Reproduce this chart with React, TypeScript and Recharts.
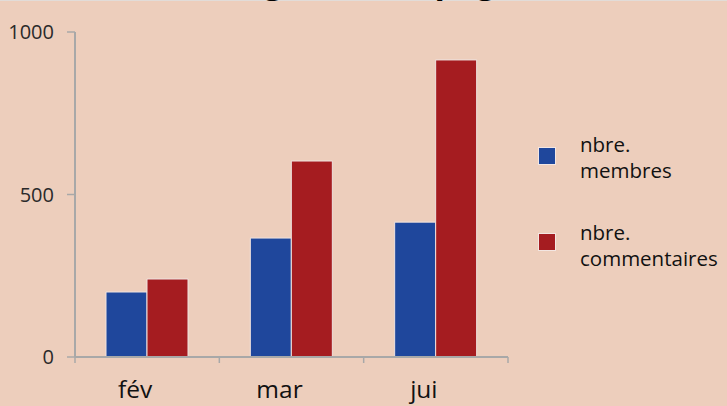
import React from 'react';
import { BarChart, Bar, XAxis, YAxis } from 'recharts';

// categories and values
const categories = ['fév', 'mar', 'jui'];
const membres = [200, 366, 415];
const commentaires = [240, 603, 914];
const yTicks = [0, 500, 1000];
const seriesLabels = ['nbre. membres', 'nbre. commentaires'];
const titleText = 'Progrès de la page';

const BLUE = '#1F479C';
const RED = '#A51C20';
const BG = '#EDCEBC';
const AXIS = '#A8A8A8';

const W = 727;
const H = 406;
const MARGIN = { top: 32, right: 219, bottom: 0, left: 0 };
const Y_WIDTH = 75;
const X_HEIGHT = 49;
const plotWidth = W - MARGIN.left - MARGIN.right - Y_WIDTH;

const data = categories.map((cat, i) => ({
  cat,
  membres: membres[i],
  commentaires: commentaires[i],
}));

const series = [
  { key: 'membres', label: seriesLabels[0], color: BLUE },
  { key: 'commentaires', label: seriesLabels[1], color: RED },
];

// Excel-like x axis: tick marks at category boundaries, labels under the bars
const XTick = (props: any) => {
  const { x, y, payload, index } = props;
  const band = plotWidth / categories.length;
  const left = x - band / 2;
  return (
    <g>
      <line x1={left} y1={y} x2={left} y2={y + 6} stroke={AXIS} strokeWidth={1.5} />
      {index === categories.length - 1 && (
        <line x1={left + band} y1={y} x2={left + band} y2={y + 6} stroke={AXIS} strokeWidth={1.5} />
      )}
      <text x={x - 12} y={y + 41} textAnchor="middle" fill="#111" fontSize={24.5} fontFamily="Open Sans">
        {payload.value}
      </text>
    </g>
  );
};

const YTick = (props: any) => {
  const { y, payload } = props;
  return (
    <text x={54} y={y} dy={7} textAnchor="end" fill="#2a2a2a" fontSize={20} fontFamily="Open Sans">
      {payload.value}
    </text>
  );
};

const ChartLegend = () => (
  <div
    style={{
      position: 'absolute',
      left: 538,
      top: 131,
      fontFamily: 'Open Sans',
      fontSize: 20.5,
      color: '#111',
      lineHeight: '26px',
    }}
  >
    {series.map((s, i) => {
      const words = s.label.split(' ');
      return (
        <div key={s.key} style={{ display: 'flex', alignItems: 'flex-start', marginBottom: i === 0 ? 36 : 0 }}>
          <div
            style={{
              width: 16,
              height: 16,
              marginTop: i === 0 ? 16 : 14,
              marginRight: 24,
              background: s.color,
              border: '1px solid #F3E6E2',
            }}
          />
          <div>
            <div>{words[0]}</div>
            <div>{words.slice(1).join(' ')}</div>
          </div>
        </div>
      );
    })}
  </div>
);

export default function App() {
  return (
    <div style={{ position: 'fixed', left: 0, top: 0, width: W, height: H, background: BG, overflow: 'hidden' }}>
      <BarChart width={W} height={H} data={data} margin={MARGIN} barSize={41} barGap={0}>
        <XAxis
          dataKey="cat"
          height={X_HEIGHT}
          tickLine={false}
          tickSize={0}
          tickMargin={0}
          axisLine={{ stroke: AXIS, strokeWidth: 2 }}
          tick={<XTick />}
          interval={0}
        />
        <YAxis
          width={Y_WIDTH}
          domain={[0, 1000]}
          ticks={yTicks}
          interval={0}
          tickSize={8}
          tickLine={{ stroke: AXIS, strokeWidth: 1.5 }}
          axisLine={{ stroke: AXIS, strokeWidth: 2 }}
          tick={<YTick />}
        />
        {series.map((s) => (
          <Bar
            key={s.key}
            dataKey={s.key}
            name={s.label}
            fill={s.color}
            stroke="#EFE3E0"
            strokeWidth={1}
            isAnimationActive={false}
          />
        ))}
      </BarChart>
      <ChartLegend />
      {/* title sits mostly above the frame, only its descenders show */}
      <svg width={W} height={H} style={{ position: 'absolute', left: 0, top: 0, pointerEvents: 'none' }}>
        <line x1={0} y1={0.5} x2={W} y2={0.5} stroke="#E2DCD8" strokeWidth={1} />
        <text x={206} y={-7} fontSize={34} fontWeight="bold" fontFamily="Open Sans" fill="#000">
          {titleText}
        </text>
      </svg>
    </div>
  );
}
